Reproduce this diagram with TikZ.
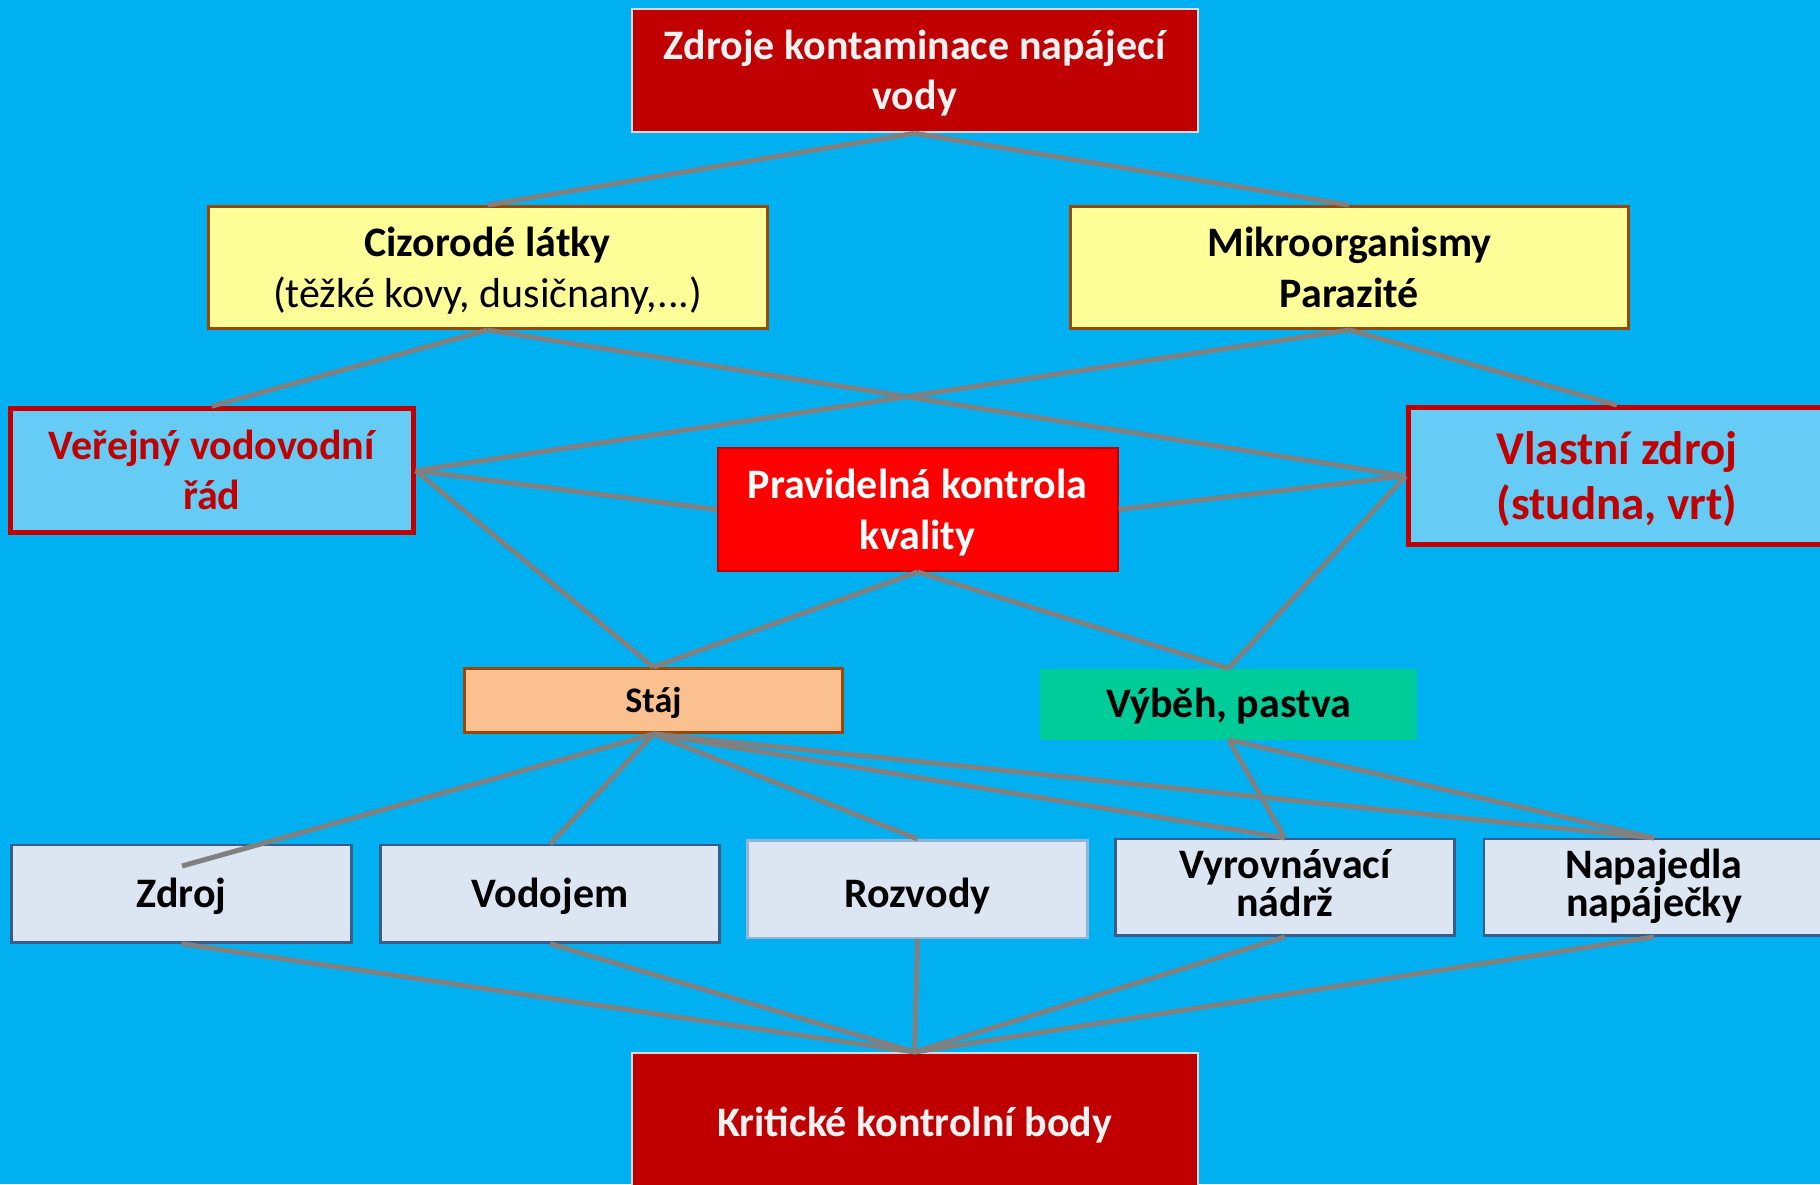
\documentclass[tikz,border=0pt]{standalone}
\usepackage{fontspec}
\setmainfont{Carlito}
\definecolor{bgblue}{HTML}{00B0F0}
\definecolor{dred}{HTML}{C00000}
\definecolor{lyel}{HTML}{FFFF99}
\definecolor{brn}{HTML}{984807}
\definecolor{lblue}{HTML}{66CCF5}
\definecolor{peach}{HTML}{FAC090}
\definecolor{vgreen}{HTML}{00CC99}
\definecolor{pale}{HTML}{DCE6F2}
\definecolor{nav}{HTML}{385D8A}
\definecolor{lnav}{HTML}{95B3D7}
\definecolor{conn}{HTML}{808080}
\definecolor{lgray}{HTML}{D9D9D9}
\newcommand\fst[1]{\rule{0pt}{#1pt}}
\newcommand\lst[1]{\rule[-#1pt]{0pt}{0pt}}
\tikzset{
  box/.style={rectangle, inner sep=0pt, align=center, font=\bfseries\fontsize{42}{50}\selectfont},
  redbox/.style={box, fill=dred, draw=lgray, line width=2pt, text=white!95!black},
  yelbox/.style={box, fill=lyel, draw=brn, line width=3pt, font=\bfseries\fontsize{42}{51}\selectfont},
  bluebox/.style={box, fill=lblue, draw=dred, line width=5pt, text=dred},
  ctrlbox/.style={box, fill=red, draw=dred, line width=2pt, text=white, font=\bfseries\fontsize{42}{51}\selectfont},
  stajbox/.style={box, fill=peach, draw=brn, line width=3pt, font=\bfseries\fontsize{36}{42}\selectfont},
  vybbox/.style={box, fill=vgreen},
  lowbox/.style={box, fill=pale, draw=nav, line width=2.5pt, font=\bfseries\fontsize{42}{38}\selectfont},
  con/.style={draw=conn, line width=5pt}
}
\begin{document}
\begin{tikzpicture}[x=1pt,y=-1pt]
\useasboundingbox (0,0) rectangle (1820,1184);
\fill[bgblue] (0,0) rectangle (1820,1184);

\node[redbox, minimum width=566pt, minimum height=123pt] (top) at (914.6,70.8) {\fst{40}Zdroje kontaminace napájecí\\vody\lst{12}};
\node[yelbox, minimum width=559pt, minimum height=122pt] (ciz) at (487.5,267.5) {\fst{40}Cizorodé látky\\{\mdseries (těžké kovy, dusičnany,...)}\lst{12}};
\node[yelbox, minimum width=558pt, minimum height=122pt] (mik) at (1349.3,267.5) {\fst{40}Mikroorganismy\\Parazité\lst{12}};
\node[bluebox, minimum width=403pt, minimum height=124pt] (ver) at (211.8,470.7) {\fst{40}Veřejný vodovodní\\řád\lst{12}};
\node[bluebox, minimum width=418pt, minimum height=137pt, font=\bfseries\fontsize{47}{55}\selectfont] (vla) at (1617,476) {\fst{45}Vlastní zdroj\\(studna, vrt)\lst{14}};
\node[ctrlbox, minimum width=400pt, minimum height=123pt] (pra) at (917.6,509.5) {\fst{40}Pravidelná kontrola\\kvality\lst{12}};
\node[stajbox, minimum width=378pt, minimum height=64pt] (sta) at (653.5,700.5) {\fst{34}Stáj\lst{11}};
\node[vybbox, minimum width=377pt, minimum height=71pt] (vyb) at (1228.6,704) {\fst{40}Výběh, pastva\lst{13}};
\node[lowbox, minimum width=340pt, minimum height=97.5pt] (zdr) at (181.6,893.8) {\fst{40}Zdroj\lst{13}};
\node[lowbox, minimum width=339pt, minimum height=97.5pt] (vod) at (550.2,893.8) {\fst{40}Vodojem\lst{13}};
\node[lowbox, draw=lnav, minimum width=340pt, minimum height=97.5pt] (roz) at (917.5,889) {\fst{46}Rozvody\lst{10}};
\node[lowbox, minimum width=339pt, minimum height=96.5pt] (vyr) at (1284.9,887.4) {\fst{36}Vyrovnávací\\nádrž\lst{15}};
\node[lowbox, minimum width=340pt, minimum height=96.5pt] (nap) at (1654,887.4) {\fst{36}Napajedla\\napáječky\lst{15}};
\node[redbox, minimum width=566pt, minimum height=140pt] (kri) at (914.6,1123) {\fst{40}Kritické kontrolní body\lst{13}};

\coordinate (zend) at (182,866);

\draw[con] (top.south) -- (ciz.north);
\draw[con] (top.south) -- (mik.north);
\draw[con] (ciz.south) -- (ver.north);
\draw[con] (ciz.south) -- (vla.west);
\draw[con] (mik.south) -- (ver.east);
\draw[con] (mik.south) -- (vla.north);
\draw[con] (ver.east) -- (pra.west);
\draw[con] (pra.east) -- (vla.west);
\draw[con] (ver.east) -- (sta.north);
\draw[con] (pra.south) -- (sta.north);
\draw[con] (pra.south) -- (vyb.north);
\draw[con] (vla.west) -- (vyb.north);
\draw[con] (sta.south) -- (zend);
\draw[con] (sta.south) -- (vod.north);
\draw[con] (sta.south) -- (roz.north);
\draw[con] (sta.south) -- (vyr.north);
\draw[con] (sta.south) -- (nap.north);
\draw[con] (vyb.south) -- (vyr.north);
\draw[con] (vyb.south) -- (nap.north);
\draw[con] (zdr.south) -- (kri.north);
\draw[con] (vod.south) -- (kri.north);
\draw[con] (roz.south) -- (kri.north);
\draw[con] (vyr.south) -- (kri.north);
\draw[con] (nap.south) -- (kri.north);
\end{tikzpicture}
\end{document}
